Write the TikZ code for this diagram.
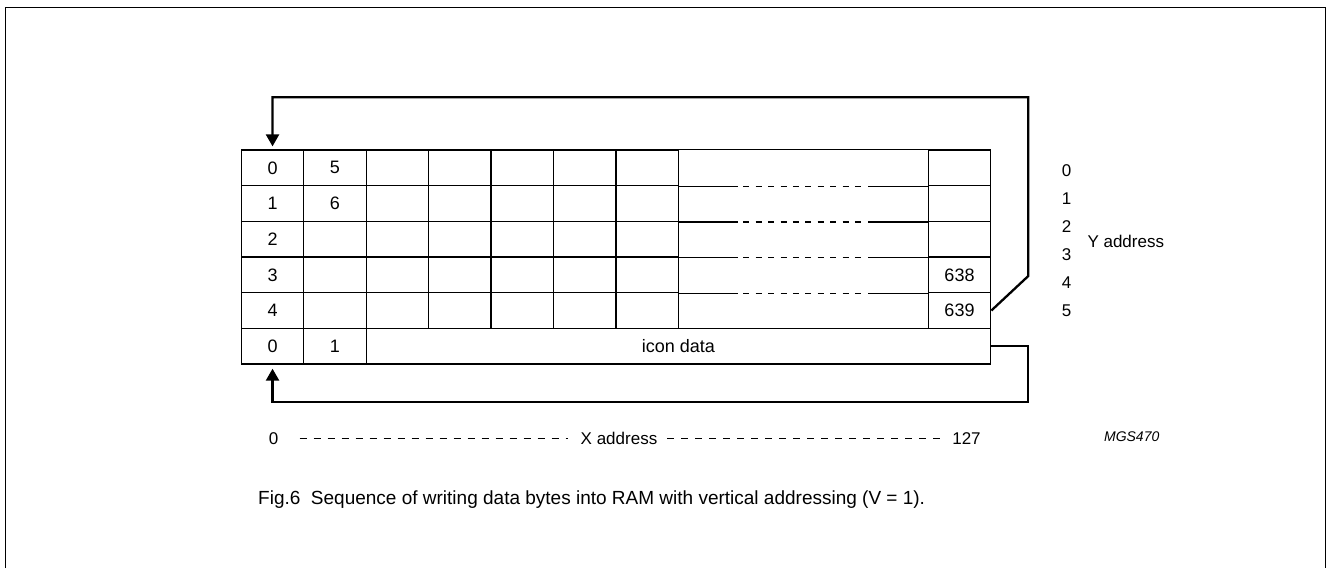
\documentclass[tikz,border=0pt]{standalone}
\usepackage{fontspec}
\setmainfont{Liberation Sans}
\usetikzlibrary{arrows.meta, positioning}
\tikzstyle{cell} = [draw, line width=1.25pt, rectangle, minimum width=62.45pt, minimum height=35.67pt, inner sep=0pt, font=\fontsize{18}{21}\selectfont]
\tikzstyle{widecell} = [cell, draw=none, minimum width=249.8pt]
\tikzstyle{gridline} = [line width=1.25pt]
\tikzstyle{sepdash} = [dash pattern=on 6pt off 6.4pt]
\tikzstyle{loopline} = [line width=2.3pt, -{Triangle[length=12pt, width=13pt]}]
\tikzstyle{addr} = [inner sep=0pt, font=\fontsize{17}{20}\selectfont]
\tikzstyle{addrdash} = [line width=1pt, dash pattern=on 7pt off 7pt]
\begin{document}
\begin{tikzpicture}[x=1pt, y=-1pt]
	\useasboundingbox (0,0) rectangle (1327,568);
	\draw[line width=1.5pt] (5.7,568) -- (5.7,7.3) -- (1325.5,7.3) -- (1325.5,568);
	% RAM cells, rows 0..4
	\foreach \r/\a/\b/\z in {1/0/5/{},2/1/6/{},3/2/{}/{},4/3/{}/638,5/4/{}/639}{
		\pgfmathsetmacro\yy{150+(\r-0.5)*35.67}
		\node[cell] (c\r1) at (272.525,\yy) {\a};
		\node[cell] (c\r2) at (334.975,\yy) {\b};
		\foreach \c in {3,...,7}{
			\pgfmathsetmacro\xx{241.3+(\c-0.5)*62.45}
			\node[cell] (c\r\c) at (\xx,\yy) {};
		}
		\node[widecell] (c\r8) at (803.35,\yy) {};
		\node[cell] (c\r9) at (959.5,\yy) {\z};
	}
	\draw[gridline] (c18.north west) -- (c18.north east);
	\foreach \r in {1,...,4}{
		\draw[gridline] (c\r8.south west) -- ++(59.85,0);
		\draw[gridline, sepdash] ([xshift=65.5pt]c\r8.south west) -- ++(117.7,0);
		\draw[gridline] ([xshift=-60.5pt]c\r8.south east) -- (c\r8.south east);
	}
	% icon row
	\node[cell] (c61) at (272.525,346.2) {0};
	\node[cell] (c62) at (334.975,346.2) {1};
	\node[cell, minimum width=624.5pt] (icon) at (678.45,346.2) {icon data};
	% loops
	\coordinate (tr) at (1028.3,97.3);
	\coordinate (trk) at (1028.3,276);
	\coordinate (br) at (1028.3,401.7);
	\draw[loopline] (c59.east) -- (trk) -- (tr) -- (c11 |- tr) -- ([yshift=3pt]c11.north);
	\draw[loopline] (icon.east) -- (icon.east -| br) -- (br) -- (c61 |- br) -- ([yshift=-4pt]c61.south);
	% Y address
	\foreach \k in {0,...,5}
		\node[addr] (y\k) at (1066.7,{170.7+28.06*\k}) {\k};
	\node[addr, anchor=west] (ylab) at (1087.3,241.7) {Y address};
	% X address
	\node[addr] (x0) at (273.6,438.5) {0};
	\node[addr] (xlab) at (619,438.5) {X address};
	\node[addr] (x127) at (966.5,438.5) {127};
	\draw[addrdash] ([xshift=21pt]x0.east) -- ([xshift=-13pt]xlab.west);
	\draw[addrdash] ([xshift=10pt]xlab.east) -- ([xshift=-9pt]x127.west);
	\node[inner sep=0pt, font=\fontsize{14}{16}\selectfont\itshape] (mgs) at (1131.7,436.7) {MGS470};
	\node[anchor=west, inner sep=0pt, font=\fontsize{19}{22}\selectfont] (caption) at (258,500) {Fig.6\ \ Sequence of writing data bytes into RAM with vertical addressing (V = 1).};
\end{tikzpicture}
\end{document}
